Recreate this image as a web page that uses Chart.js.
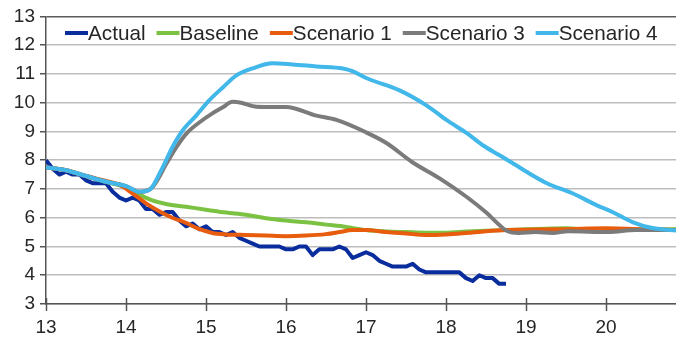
<!DOCTYPE html>
<html>
<head>
<meta charset="utf-8">
<script src="https://cdn.jsdelivr.net/npm/chart.js@4.4.1/dist/chart.umd.min.js"></script>
<style>
  html, body { margin: 0; padding: 0; background: #ffffff; }
  #wrap { width: 676px; height: 338px; }
</style>
</head>
<body>
<div id="wrap"><canvas id="chart" width="676" height="338"></canvas></div>
<script>
// Monthly actual rate, starting at 13.0 (one value per month)
const actualStart = 13;
const actualValues = [
  8.0, 7.7, 7.5, 7.6, 7.5, 7.5, 7.3, 7.2, 7.2, 7.2, 6.9, 6.7,
  6.6, 6.7, 6.6, 6.3, 6.3, 6.1, 6.2, 6.2, 5.9, 5.7, 5.8, 5.6,
  5.7, 5.5, 5.5, 5.4, 5.5, 5.3, 5.2, 5.1, 5.0, 5.0, 5.0, 5.0,
  4.9, 4.9, 5.0, 5.0, 4.7, 4.9, 4.9, 4.9, 5.0, 4.9, 4.6, 4.7,
  4.8, 4.7, 4.5, 4.4, 4.3, 4.3, 4.3, 4.4, 4.2, 4.1, 4.1, 4.1,
  4.1, 4.1, 4.1, 3.9, 3.8, 4.0, 3.9, 3.9, 3.7, 3.7
];

// Projection paths
const baselineX = [13.0, 13.25, 13.5, 13.75, 14.0, 14.17, 14.33, 14.5, 14.75, 15.0, 15.25, 15.5, 15.75, 16.0, 16.25, 16.5, 16.75, 17.0, 17.25, 17.5, 17.75, 18.0, 18.25, 18.5, 18.75, 19.0, 19.25, 19.5, 19.75, 20.0, 20.25, 20.5, 20.9];
const baselineY = [7.75, 7.65, 7.45, 7.25, 7.05, 6.8, 6.6, 6.48, 6.38, 6.28, 6.18, 6.1, 5.98, 5.9, 5.84, 5.76, 5.68, 5.57, 5.52, 5.5, 5.48, 5.48, 5.52, 5.55, 5.57, 5.6, 5.62, 5.63, 5.6, 5.57, 5.58, 5.6, 5.6];

const scen1X = [13.0, 13.25, 13.5, 13.75, 13.92, 14.08, 14.25, 14.42, 14.58, 14.75, 14.92, 15.08, 15.25, 15.5, 15.75, 16.0, 16.25, 16.5, 16.67, 16.83, 17.0, 17.25, 17.5, 17.75, 18.0, 18.25, 18.5, 18.75, 19.0, 19.5, 20.0, 20.5, 20.9];
const scen1Y = [7.75, 7.65, 7.45, 7.28, 7.15, 6.85, 6.5, 6.22, 6.0, 5.82, 5.6, 5.47, 5.42, 5.4, 5.38, 5.36, 5.38, 5.43, 5.5, 5.57, 5.57, 5.5, 5.45, 5.4, 5.42, 5.47, 5.53, 5.57, 5.58, 5.6, 5.63, 5.6, 5.57];

const scen3X = [13.0, 13.25, 13.5, 13.75, 14.0, 14.17, 14.33, 14.51, 14.63, 14.76, 14.92, 15.08, 15.21, 15.33, 15.44, 15.63, 15.88, 16.0, 16.38, 16.63, 17.0, 17.26, 17.58, 17.92, 18.26, 18.51, 18.67, 18.77, 18.91, 19.12, 19.33, 19.53, 20.03, 20.37, 20.9];
const scen3Y = [7.75, 7.65, 7.45, 7.25, 7.1, 6.9, 7.06, 7.9, 8.45, 8.94, 9.32, 9.63, 9.84, 10.03, 10.0, 9.86, 9.85, 9.85, 9.55, 9.4, 8.97, 8.59, 7.93, 7.37, 6.72, 6.16, 5.74, 5.53, 5.47, 5.5, 5.47, 5.53, 5.5, 5.57, 5.57];

const scen4X = [13.0, 13.25, 13.5, 13.75, 14.0, 14.17, 14.29, 14.46, 14.58, 14.71, 14.88, 15.04, 15.21, 15.38, 15.58, 15.83, 16.08, 16.38, 16.71, 16.83, 17.01, 17.42, 17.76, 18.01, 18.26, 18.46, 18.67, 18.83, 19.26, 19.58, 19.88, 20.08, 20.33, 20.58, 20.9];
const scen4Y = [7.75, 7.65, 7.45, 7.25, 7.1, 6.9, 6.96, 7.76, 8.45, 9.04, 9.56, 10.08, 10.53, 10.95, 11.19, 11.37, 11.33, 11.26, 11.19, 11.1, 10.85, 10.43, 9.9, 9.39, 8.94, 8.52, 8.17, 7.9, 7.2, 6.85, 6.44, 6.2, 5.85, 5.64, 5.55];

// Axis ranges and tick labels
const xMin = 13, xMax = 20.875;
const xTickLabels = [13, 14, 15, 16, 17, 18, 19, 20];
const yTickLabels = [3, 4, 5, 6, 7, 8, 9, 10, 11, 12, 13];

const seriesNames = ['Actual', 'Baseline', 'Scenario 1', 'Scenario 3', 'Scenario 4'];
const seriesColors = ['#0a2d9e', '#7cc242', '#e85c0e', '#7b7b7b', '#42b7e9'];

const FONT = '"Liberation Sans", Arial, sans-serif';
const TEXT = '#262626';
const AXIS = '#555555';

function pairs(xs, ys) { return xs.map((x, i) => ({ x: x, y: ys[i] })); }
const actualPoints = actualValues.map((v, i) => ({ x: actualStart + i / 12, y: v }));

const seriesData = [
  actualPoints,
  pairs(baselineX, baselineY),
  pairs(scen1X, scen1Y),
  pairs(scen3X, scen3Y),
  pairs(scen4X, scen4Y)
];
// later series sit on top of earlier ones
const drawOrder = [4, 3, 2, 1, 0];

const datasets = seriesNames.map((name, i) => ({
  label: name,
  data: seriesData[i],
  borderColor: seriesColors[i],
  backgroundColor: seriesColors[i],
  borderWidth: 4,
  pointRadius: 0,
  pointHoverRadius: 0,
  fill: false,
  tension: 0,
  cubicInterpolationMode: i === 0 ? 'default' : 'monotone',
  borderJoinStyle: 'round',
  borderCapStyle: 'butt',
  order: drawOrder[i]
}));

// Legend drawn inside the plot area, line swatch followed by the label
const insideLegend = {
  id: 'insideLegend',
  afterDraw(chart) {
    const ctx = chart.ctx;
    ctx.save();
    ctx.font = '20.7px ' + FONT;
    ctx.textBaseline = 'middle';
    let x = 65;
    const y = 33;
    seriesNames.forEach((name, i) => {
      ctx.strokeStyle = seriesColors[i];
      ctx.lineWidth = 4;
      ctx.beginPath();
      ctx.moveTo(x, y);
      ctx.lineTo(x + 23, y);
      ctx.stroke();
      ctx.fillStyle = TEXT;
      ctx.textAlign = 'left';
      ctx.fillText(name, x + 23, y + 1);
      x += 23 + ctx.measureText(name).width + 11;
    });
    ctx.restore();
  }
};

// Category ticks on the horizontal axis cross the axis line
const crossTicks = {
  id: 'crossTicks',
  afterDraw(chart) {
    const ctx = chart.ctx;
    const xs = chart.scales.x;
    const yb = chart.chartArea.bottom;
    ctx.save();
    ctx.strokeStyle = AXIS;
    ctx.lineWidth = 1.5;
    xTickLabels.forEach(v => {
      const px = Math.round(xs.getPixelForValue(v)) + 0.5;
      ctx.beginPath();
      ctx.moveTo(px, yb - 6);
      ctx.lineTo(px, yb + 7);
      ctx.stroke();
    });
    ctx.restore();
  }
};

new Chart(document.getElementById('chart'), {
  type: 'line',
  data: { datasets: datasets },
  plugins: [insideLegend, crossTicks],
  options: {
    responsive: false,
    animation: false,
    events: [],
    layout: { padding: { top: 16, right: 0, left: 0, bottom: 0 } },
    plugins: { legend: { display: false }, tooltip: { enabled: false } },
    scales: {
      x: {
        type: 'linear',
        min: xMin,
        max: xMax,
        afterBuildTicks(scale) {
          scale.ticks = xTickLabels.map(v => ({ value: v }));
        },
        afterFit(scale) { scale.height = 34; },
        ticks: {
          color: TEXT,
          font: { family: FONT, size: 19 },
          padding: 12,
          maxRotation: 0,
          autoSkip: false
        },
        grid: {
          display: true,
          drawOnChartArea: false,
          drawTicks: false
        },
        border: { display: true, color: AXIS, width: 1.5 }
      },
      y: {
        min: 3,
        max: 13,
        afterBuildTicks(scale) {
          scale.ticks = yTickLabels.map(v => ({ value: v }));
        },
        afterFit(scale) { scale.width = 46; },
        ticks: {
          color: TEXT,
          font: { family: FONT, size: 19 },
          padding: 5,
          autoSkip: false
        },
        grid: {
          color: ctx => (ctx.tick && ctx.tick.value === 13) ? '#5a5a5a' : '#bdbdbd',
          lineWidth: 1.5,
          drawTicks: true,
          tickLength: 6,
          tickColor: AXIS
        },
        border: { display: true, color: AXIS, width: 1.5 }
      }
    }
  }
});
</script>
</body>
</html>
